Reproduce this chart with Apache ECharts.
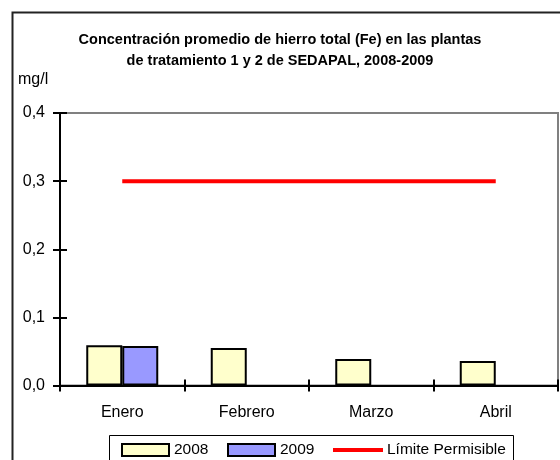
<!DOCTYPE html>
<html>
<head>
<meta charset="utf-8">
<script src="https://cdn.jsdelivr.net/npm/echarts@6/dist/echarts.min.js"></script>
<style>html,body{margin:0;padding:0;background:#fff}#c{width:560px;height:460px}</style>
</head>
<body>
<div id="c"></div>
<script>
const categories = ['Enero', 'Febrero', 'Marzo', 'Abril'];
const values2008 = [0.059, 0.055, 0.039, 0.036];
const values2009 = [0.058, null, null, null];
const limite = [0.3, 0.3, 0.3, 0.3];
const yTicks = { min: 0, max: 0.4, interval: 0.1 };
const titleText = 'Concentración promedio de hierro total (Fe) en las plantas\nde tratamiento 1 y 2 de SEDAPAL, 2008-2009';
const unitText = 'mg/l';

const FONT = '"Liberation Sans Narrow", "Liberation Sans", Arial, sans-serif';
const chart = echarts.init(document.getElementById('c'), null, { renderer: 'canvas' });
const fmt = v => v.toFixed(1).replace('.', ',');
const legendText = { fontFamily: FONT, fontSize: 15.5, color: '#000', padding: [0, 0, 0, 0] };

chart.setOption({
  animation: false,
  backgroundColor: '#fff',
  textStyle: { fontFamily: FONT },
  title: {
    text: titleText,
    left: 275, top: 24, textAlign: 'center',
    textStyle: { fontFamily: FONT, fontSize: 14.5, fontWeight: 'bold', color: '#000', lineHeight: 21 }
  },
  grid: { left: 60, top: 113, right: 2, bottom: 74.5, show: true, borderColor: '#808080', borderWidth: 2, backgroundColor: 'transparent' },
  legend: [
    { left: 121, top: 442, itemWidth: 47, itemHeight: 12, itemGap: 0, padding: 0,
      data: [{ name: '2008', icon: 'rect' }], textStyle: legendText },
    { left: 227, top: 442, itemWidth: 47, itemHeight: 12, itemGap: 0, padding: 0,
      data: [{ name: '2009', icon: 'rect' }], textStyle: legendText },
    { left: 333, top: 442, itemWidth: 50, itemHeight: 4, itemGap: 0, padding: 0,
      data: [{ name: 'Límite Permisible', icon: 'rect' }],
      textStyle: Object.assign({}, legendText, { padding: [0, 0, 0, -1] }) }
  ],
  xAxis: [
    { type: 'category', data: categories, boundaryGap: true,
      axisLine: { lineStyle: { color: '#000', width: 2 } },
      axisTick: { show: true, length: 6, lineStyle: { color: '#000', width: 2 } },
      axisLabel: { margin: 19, fontFamily: FONT, fontSize: 16, color: '#000' },
      splitLine: { show: false } },
    { type: 'category', data: categories, boundaryGap: true, position: 'bottom',
      axisLine: { show: false },
      axisTick: { show: true, inside: true, length: 6, lineStyle: { color: '#000', width: 2 } },
      axisLabel: { show: false }, splitLine: { show: false } }
  ],
  yAxis: [
    { type: 'value', min: yTicks.min, max: yTicks.max, interval: yTicks.interval,
      axisLine: { show: true, lineStyle: { color: '#000', width: 2 } },
      axisTick: { show: true, length: 7, lineStyle: { color: '#000', width: 2 } },
      axisLabel: { margin: 15, fontFamily: FONT, fontSize: 16, color: '#000', formatter: fmt },
      splitLine: { show: false } },
    { type: 'value', min: yTicks.min, max: yTicks.max, interval: yTicks.interval, position: 'left',
      axisLine: { show: false },
      axisTick: { show: true, inside: true, length: 7, lineStyle: { color: '#000', width: 2 } },
      axisLabel: { show: false }, splitLine: { show: false } }
  ],
  series: [
    { name: '2008', type: 'bar', data: values2008, barWidth: 36, barGap: '0%',
      itemStyle: { color: '#FFFFCC', borderColor: '#000', borderWidth: 2 } },
    { name: '2009', type: 'bar', data: values2009, barWidth: 36, barGap: '0%',
      itemStyle: { color: '#9999FF', borderColor: '#000', borderWidth: 2 } },
    { name: 'Límite Permisible', type: 'line', data: limite, symbol: 'none',
      lineStyle: { color: '#FF0000', width: 4 }, itemStyle: { color: '#FF0000' } }
  ],
  graphic: [
    { type: 'rect', shape: { x: 12.5, y: 12.5, width: 700, height: 600 },
      style: { fill: 'none', stroke: '#222', lineWidth: 2 }, z: 100 },
    { type: 'rect', shape: { x: 109.5, y: 435.5, width: 404, height: 60 },
      style: { fill: 'none', stroke: '#000', lineWidth: 1 }, z: 100 },
    { type: 'text', left: 18, top: 72, z: 100,
      style: { text: unitText, font: '16px ' + FONT, fill: '#000' } }
  ]
});
</script>
</body>
</html>
